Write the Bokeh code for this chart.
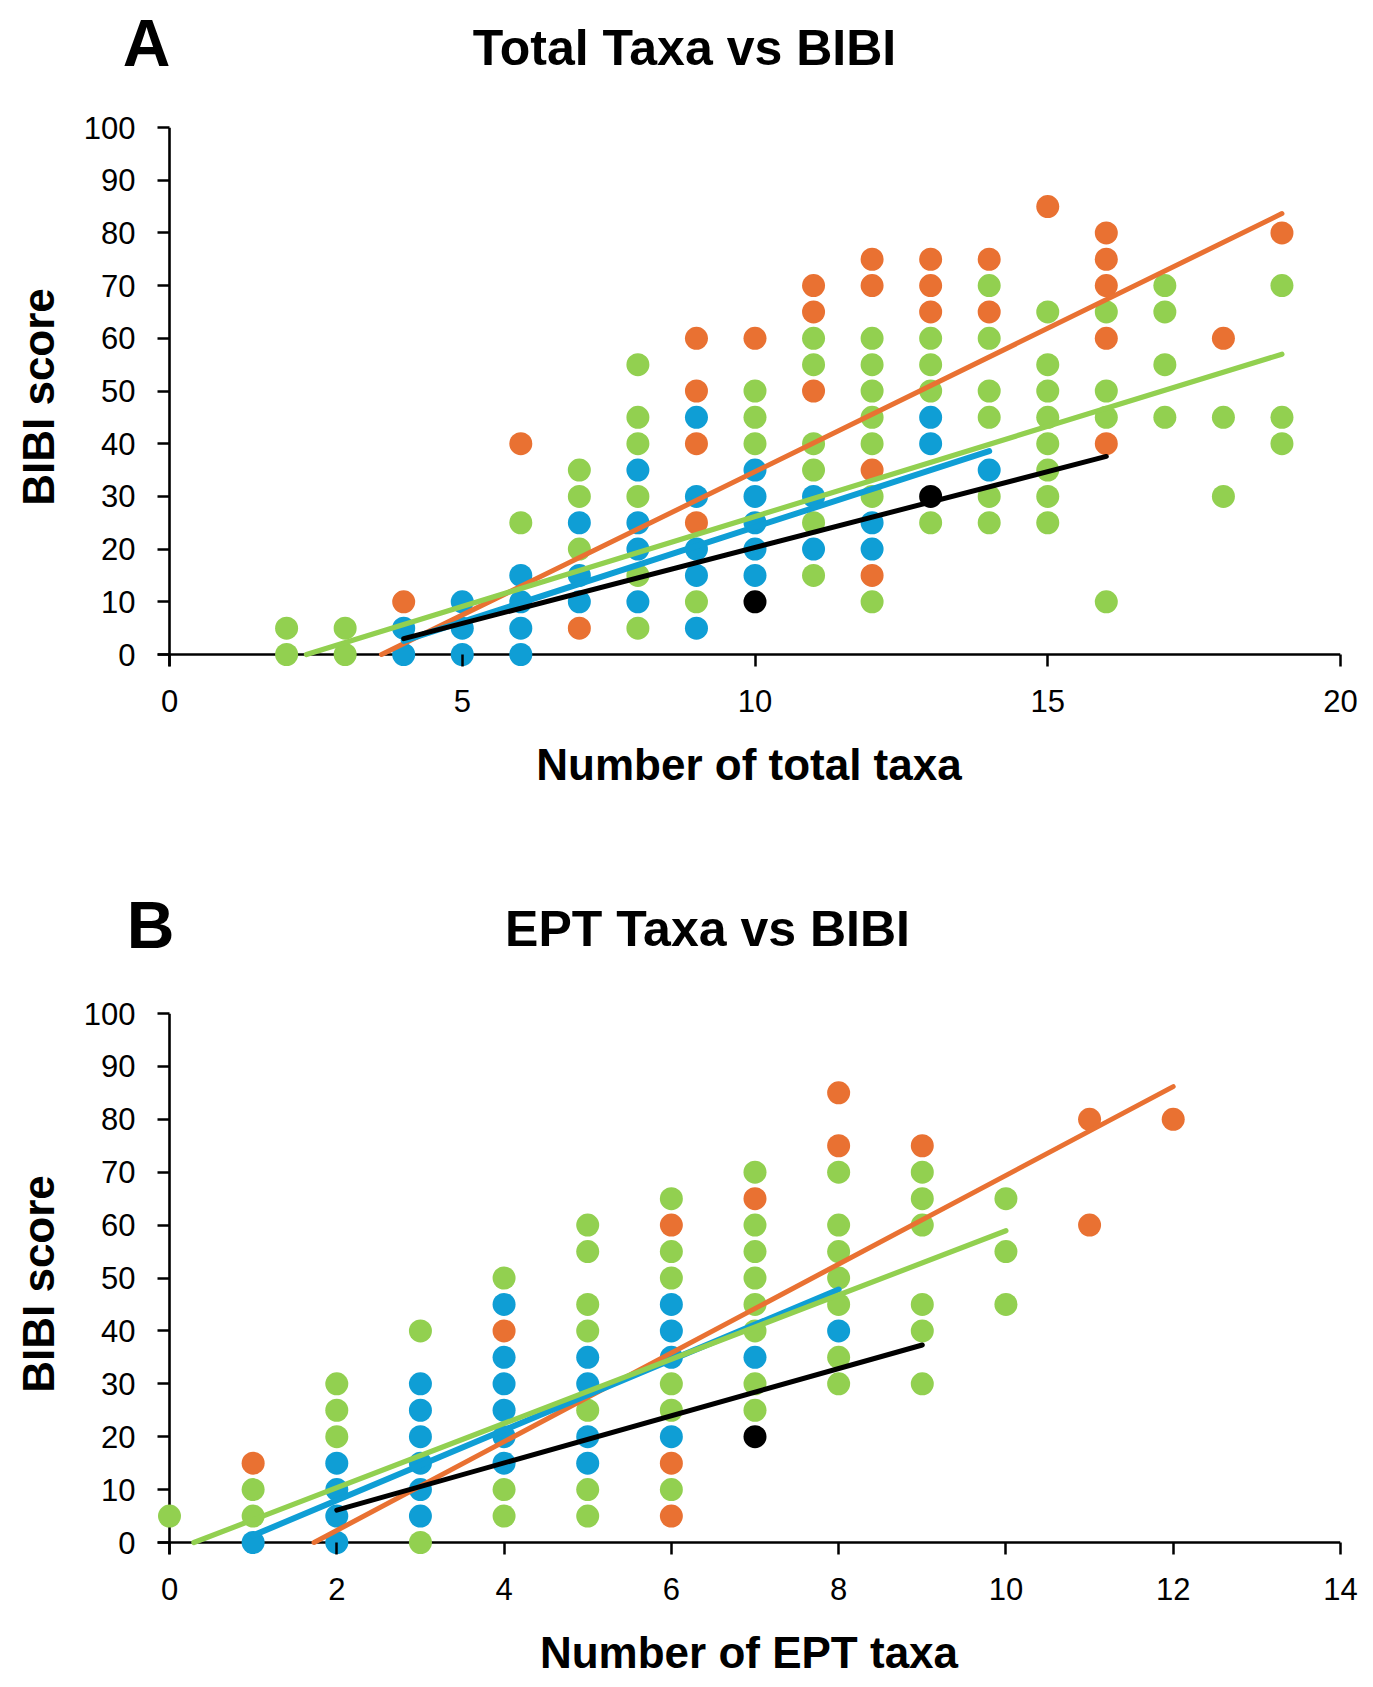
import numpy as np
from bokeh.plotting import figure
from bokeh.layouts import column, row
from bokeh.models import Span, Label, FixedTicker, Range1d
from bokeh.embed import file_html
from bokeh.resources import INLINE

# ---------------- Data: Chart A (Total taxa vs BIBI) ----------------
a_orange_x = [4, 6, 7, 9, 9, 9, 9, 10, 11, 11, 11, 12, 12, 12, 12, 13, 13, 13, 14, 14, 15, 16, 16, 16, 16, 16, 18, 19]
a_orange_y = [10, 40, 5, 60, 50, 40, 25, 60, 70, 65, 50, 75, 70, 35, 15, 75, 70, 65, 75, 65, 85, 80, 75, 70, 60, 40, 60, 80]

a_blue_x = [4, 4, 5, 5, 5, 6, 6, 6, 6, 7, 7, 7, 8, 8, 8, 8, 9, 9, 9, 9, 9, 10, 10, 10, 10, 10, 11, 11, 12, 12, 13, 13, 14]
a_blue_y = [5, 0, 10, 5, 0, 15, 10, 5, 0, 25, 15, 10, 35, 25, 20, 10, 45, 30, 20, 15, 5, 35, 30, 25, 20, 15, 30, 20, 25, 20, 45, 40, 35]

a_green_x = [2, 2, 3, 3, 6, 7, 7, 7, 8, 8, 8, 8, 8, 8, 9, 10, 10, 10,
             11, 11, 11, 11, 11, 11, 12, 12, 12, 12, 12, 12, 12, 13, 13, 13, 13,
             14, 14, 14, 14, 14, 14, 15, 15, 15, 15, 15, 15, 15, 15,
             16, 16, 16, 16, 17, 17, 17, 17, 18, 18, 19, 19, 19]
a_green_y = [5, 0, 5, 0, 25, 35, 30, 20, 55, 45, 40, 30, 15, 5, 10, 50, 45, 40,
             60, 55, 40, 35, 25, 15, 60, 55, 50, 45, 40, 30, 10, 60, 55, 50, 25,
             70, 60, 50, 45, 30, 25, 65, 55, 50, 45, 40, 35, 30, 25,
             65, 50, 45, 10, 70, 65, 55, 45, 45, 30, 70, 45, 40]

a_black_x = [10, 13]
a_black_y = [10, 30]

# trendlines: (x_min, x_max, slope, intercept)
a_trend_orange = (3.0, 19.0, 5.44, -19.7)
a_trend_blue = (4.0, 14.0, 3.60, -11.8)
a_trend_black = (4.0, 16.0, 2.88, -8.5)
a_trend_green = (2.0, 19.0, 3.42, -8.0)

a_xticks = [0, 5, 10, 15, 20]

# ---------------- Data: Chart B (EPT taxa vs BIBI) ----------------
b_orange_x = [1, 4, 6, 6, 6, 7, 8, 8, 9, 11, 11, 12]
b_orange_y = [15, 40, 60, 15, 5, 65, 85, 75, 75, 80, 60, 80]

b_blue_x = [1, 2, 2, 2, 2, 3, 3, 3, 3, 3, 3, 4, 4, 4, 4, 4, 4, 5, 5, 5, 5, 6, 6, 6, 6, 7, 8]
b_blue_y = [0, 15, 10, 5, 0, 30, 25, 20, 15, 10, 5, 45, 35, 30, 25, 20, 15, 35, 30, 20, 15, 45, 40, 35, 20, 35, 40]

b_green_x = [0, 1, 1, 2, 2, 2, 3, 3, 4, 4, 4,
             5, 5, 5, 5, 5, 5, 5, 6, 6, 6, 6, 6, 6,
             7, 7, 7, 7, 7, 7, 7, 7, 8, 8, 8, 8, 8, 8, 8,
             9, 9, 9, 9, 9, 9, 10, 10, 10]
b_green_y = [5, 10, 5, 30, 25, 20, 40, 0, 50, 10, 5,
             60, 55, 45, 40, 25, 10, 5, 65, 55, 50, 30, 25, 10,
             70, 60, 55, 50, 45, 40, 30, 25, 70, 60, 55, 50, 45, 35, 30,
             70, 65, 60, 45, 40, 30, 65, 55, 45]

b_black_x = [7]
b_black_y = [20]

b_trend_orange = (1.0, 12.0, 8.39, -14.5)
b_trend_blue = (1.0, 8.0, 6.64, -5.3)
b_trend_black = (2.0, 9.0, 4.46, -2.8)
b_trend_green = (0.0, 10.0, 6.07, -1.77)

b_xticks = [0, 2, 4, 6, 8, 10, 12, 14]

y_ticks = [0, 10, 20, 30, 40, 50, 60, 70, 80, 90, 100]

ORANGE = "#E97132"
BLUE = "#0F9ED5"
GREEN = "#92D050"
BLACK = "#000000"
FONT = "Liberation Sans"
W = 1373


def trend_xy(tr):
    x0, x1, m, b = tr
    if m * x0 + b < 0:
        x0 = -b / m
    xs = np.array([x0, x1])
    return xs, m * xs + b


def make_header(height, letter, letter_x, letter_y, title, title_x, title_y):
    h = figure(width=W, height=height, output_backend="svg", toolbar_location=None,
               x_range=Range1d(0, W), y_range=Range1d(height, 0),
               x_axis_type=None, y_axis_type=None,
               min_border_left=0, min_border_right=0, min_border_top=0, min_border_bottom=0,
               title=None)
    h.outline_line_color = None
    h.grid.visible = False
    h.add_layout(Label(x=letter_x, y=letter_y, text=letter, text_font=FONT,
                       text_font_size="66px", text_font_style="bold", text_align="center",
                       text_baseline="alphabetic", text_color="black"))
    h.add_layout(Label(x=title_x, y=title_y, text=title, text_font=FONT,
                       text_font_size="50px", text_font_style="bold", text_align="center",
                       text_baseline="alphabetic", text_color="black"))
    return h


def make_chart(height, top, bottom, x_end, xticks, series, trends, xlabel):
    frame_w = 1183
    left = 157
    frame_h = height - top - bottom
    px_per_unit_x = (frame_w - 12) / x_end
    px_per_unit_y = (frame_h - 12) / 100.0
    p = figure(width=W, height=height, output_backend="svg", toolbar_location=None,
               x_range=(-12 / px_per_unit_x, x_end),
               y_range=(-12 / px_per_unit_y, 100),
               min_border_left=left, min_border_right=W - left - frame_w,
               min_border_top=top, min_border_bottom=bottom,
               title=None)
    p.outline_line_color = None
    p.xgrid.visible = False
    p.ygrid.visible = False

    for ax, ticks in ((p.xaxis[0], xticks), (p.yaxis[0], y_ticks)):
        ax.ticker = FixedTicker(ticks=ticks)
        ax.axis_line_color = None
        ax.major_tick_in = 12
        ax.major_tick_out = 0
        ax.major_tick_line_width = 2.5
        ax.major_tick_line_color = "black"
        ax.minor_tick_line_color = None
        ax.major_label_text_font = FONT
        ax.major_label_text_font_size = "31px"
        ax.major_label_text_color = "black"
        ax.axis_label_text_font = FONT
        ax.axis_label_text_font_size = "44px"
        ax.axis_label_text_font_style = "bold"
        ax.axis_label_text_color = "black"
    p.yaxis[0].major_label_standoff = 22
    p.xaxis[0].major_label_standoff = 23
    p.xaxis[0].axis_label = xlabel
    p.xaxis[0].axis_label_standoff = 25
    p.yaxis[0].axis_label = "BIBI score"
    p.yaxis[0].axis_label_standoff = 18

    p.add_layout(Span(location=0, dimension="width", line_color="black", line_width=2.6, level="underlay"))
    p.add_layout(Span(location=0, dimension="height", line_color="black", line_width=2.6, level="underlay"))

    for xs, ys, col in series:
        p.scatter(xs, ys, size=23, fill_color=col, line_color=None)

    for tr, col, lw in trends:
        tx, ty = trend_xy(tr)
        p.line(tx, ty, line_color=col, line_width=lw, line_cap="round")
    return p


hA = make_header(108, "A", 146, 42, "Total Taxa vs BIBI", 684, 47)
pA = make_chart(
    735, 19, 177, 20, a_xticks,
    [(a_green_x, a_green_y, GREEN), (a_blue_x, a_blue_y, BLUE),
     (a_orange_x, a_orange_y, ORANGE), (a_black_x, a_black_y, BLACK)],
    [(a_trend_orange, ORANGE, 5.0), (a_trend_blue, BLUE, 6.0),
     (a_trend_black, BLACK, 5.0), (a_trend_green, GREEN, 5.2)],
    "Number of total taxa")

hB = make_header(147, "B", 150, 81, "EPT Taxa vs BIBI", 707, 85)
pB = make_chart(
    697, 23, 133, 14, b_xticks,
    [(b_green_x, b_green_y, GREEN), (b_blue_x, b_blue_y, BLUE),
     (b_orange_x, b_orange_y, ORANGE), (b_black_x, b_black_y, BLACK)],
    [(b_trend_orange, ORANGE, 5.0), (b_trend_blue, BLUE, 6.0),
     (b_trend_black, BLACK, 5.0), (b_trend_green, GREEN, 5.2)],
    "Number of EPT taxa")

layout = column(row(hA), pA, row(hB), pB, spacing=0)
open("out.html", "w").write(file_html(layout, INLINE))
